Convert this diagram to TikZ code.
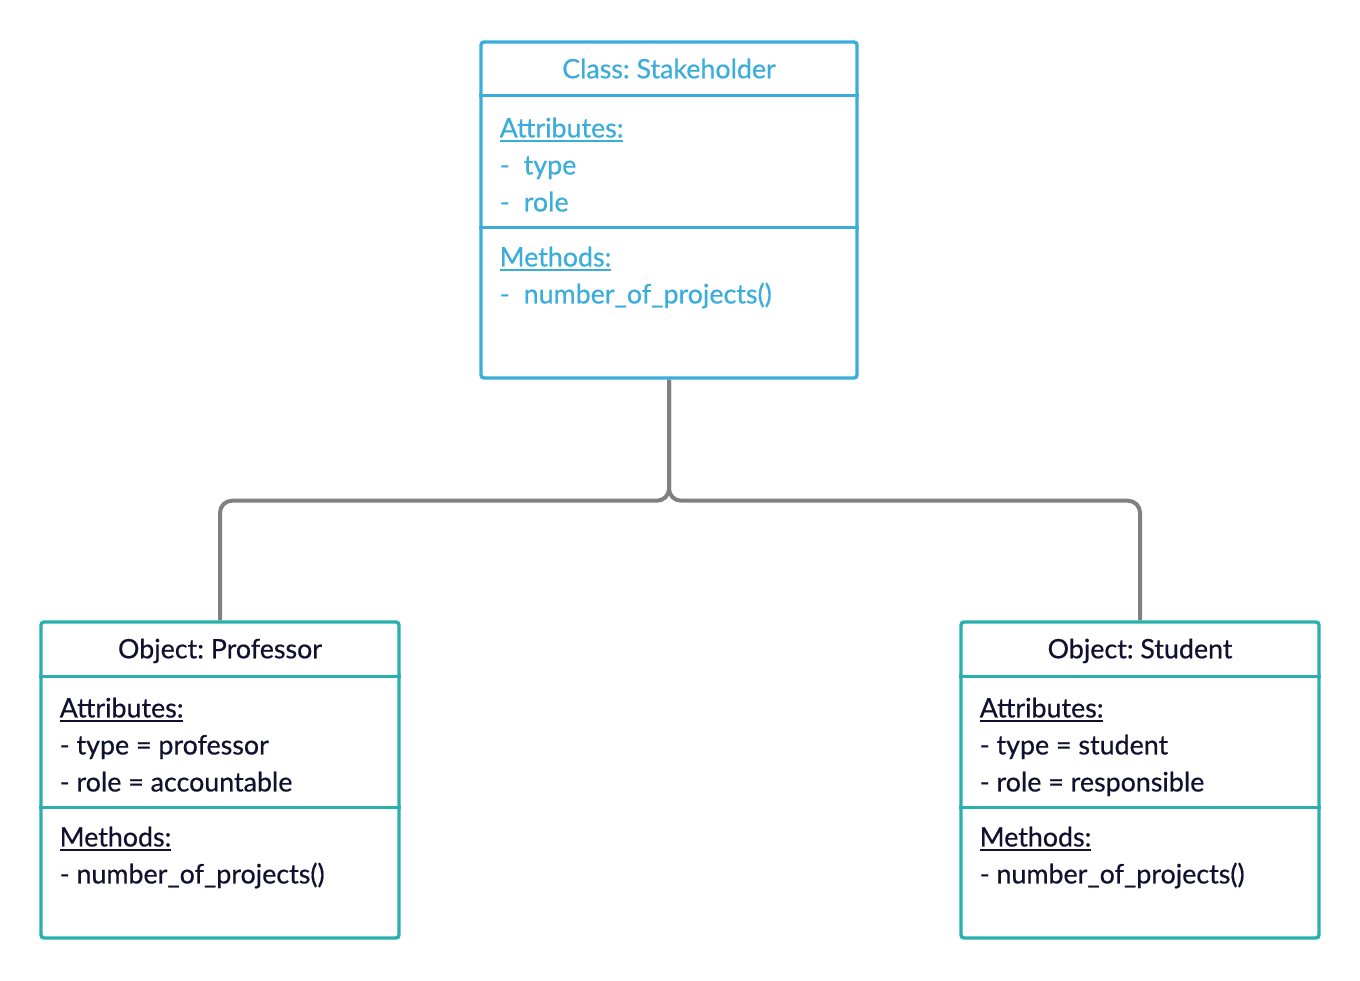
\documentclass[tikz,border=0pt]{standalone}
\usepackage{fontspec}
\setmainfont{Lato}[FakeBold=0.5]
\usetikzlibrary{calc, positioning, backgrounds}
\definecolor{classblue}{HTML}{3AADDB}
\definecolor{objteal}{HTML}{29B0AE}
\definecolor{objtext}{HTML}{10112E}
\definecolor{linkgray}{HTML}{808080}
\newcommand{\heading}[1]{\setbox0\hbox{#1}\rlap{\rule[-2.2pt]{\wd0}{0.8pt}}\box0}
\frenchspacing

\begin{document}
\begin{tikzpicture}[x=0.5pt, y=-0.5pt,
    every node/.style={font=\fontsize{13.4}{18.5}\selectfont},
    umlbox/.style={draw, line width=1.7pt, rounded corners=1.5pt, fill=white, inner sep=0pt},
    classbox/.style={umlbox, draw=classblue, minimum width=188pt, minimum height=168pt},
    objbox/.style={umlbox, draw=objteal, minimum width=179pt, minimum height=158pt},
    divider/.style={line width=1.7pt},
    header/.style={anchor=base, inner sep=0pt},
    body/.style={anchor=north west, align=left, inner sep=0pt},
    link/.style={draw=linkgray, line width=2pt, rounded corners=6pt},
    ]
\useasboundingbox (0,0) rectangle (1360,980);

% class box
\node[classbox] (stake) at (669,210) {};
\draw[divider, classblue] ($(stake.north west)+(0,55)$) -- ($(stake.north east)+(0,55)$);
\draw[divider, classblue] ($(stake.north west)+(0,187)$) -- ($(stake.north east)+(0,187)$);
\node[header, text=classblue] (stake title) at ($(stake.north)+(0,38)$) {Class: Stakeholder};
\node[body, text=classblue] (stake attr) at ($(stake.north west)+(20,77)$)
    {\heading{Attributes:}\\\makebox[12pt][l]{-}type\\\makebox[12pt][l]{-}role};
\node[body, text=classblue] (stake meth) at ($(stake.north west)+(20,206)$)
    {\heading{Methods:}\\\makebox[12pt][l]{-}number\_of\_projects()};

% object boxes
\node[objbox] (prof) at (220,780) {};
\draw[divider, objteal] ($(prof.north west)+(0,56)$) -- ($(prof.north east)+(0,56)$);
\draw[divider, objteal] ($(prof.north west)+(0,187)$) -- ($(prof.north east)+(0,187)$);
\node[header, text=objtext] (prof title) at ($(prof.north)+(0,38)$) {Object: Professor};
\node[body, text=objtext] (prof attr) at ($(prof.north west)+(20,77)$)
    {\heading{Attributes:}\\- type = professor\\- role = accountable};
\node[body, text=objtext] (prof meth) at ($(prof.north west)+(20,206)$)
    {\heading{Methods:}\\- number\_of\_projects()};

\node[objbox] (stud) at (1140,780) {};
\draw[divider, objteal] ($(stud.north west)+(0,56)$) -- ($(stud.north east)+(0,56)$);
\draw[divider, objteal] ($(stud.north west)+(0,187)$) -- ($(stud.north east)+(0,187)$);
\node[header, text=objtext] (stud title) at ($(stud.north)+(0,38)$) {Object: Student};
\node[body, text=objtext] (stud attr) at ($(stud.north west)+(20,77)$)
    {\heading{Attributes:}\\- type = student\\- role = responsible};
\node[body, text=objtext] (stud meth) at ($(stud.north west)+(20,206)$)
    {\heading{Methods:}\\- number\_of\_projects()};

% connectors
\coordinate (split) at ($(stake.south)+(0,121)$);
\begin{scope}[on background layer]
\draw[link] (stake.south) -- (split) -| (prof.north);
\draw[link] (stake.south) -- (split) -| (stud.north);
\end{scope}
\end{tikzpicture}
\end{document}
